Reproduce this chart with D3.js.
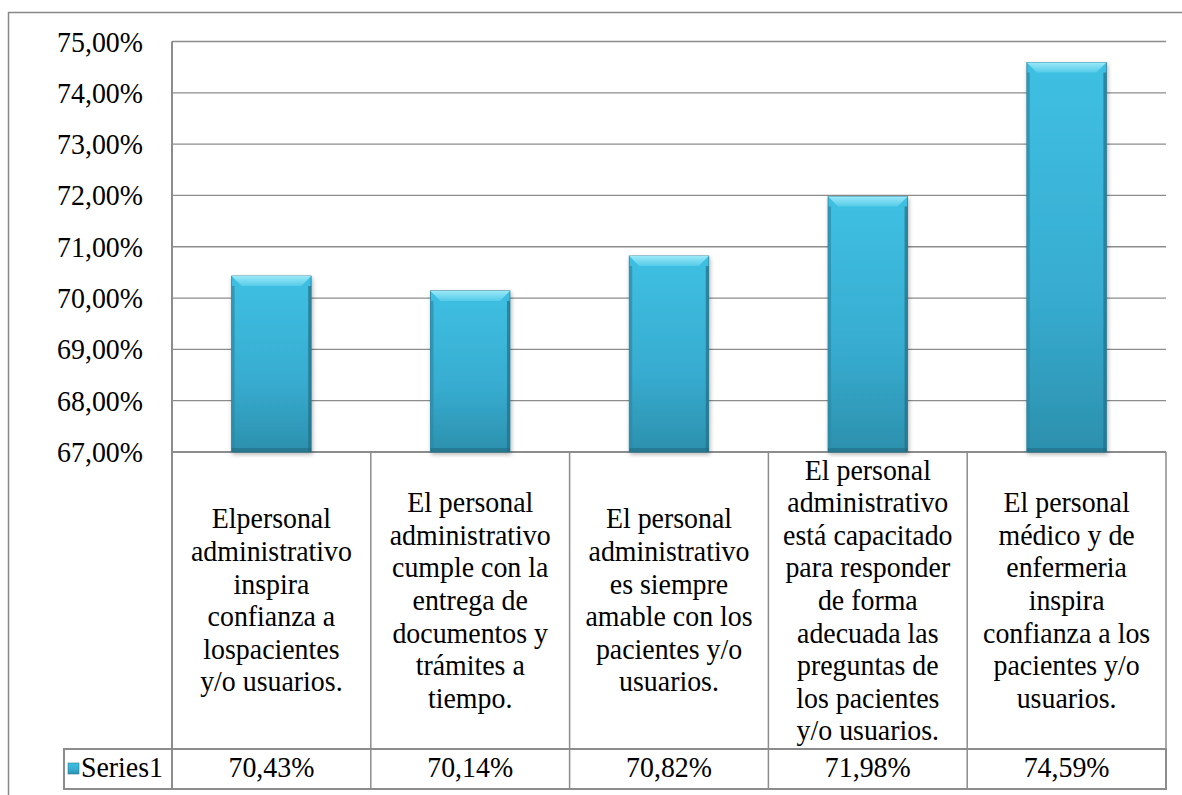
<!DOCTYPE html>
<meta charset="utf-8">
<style>
  body { margin: 0; background: #fff; }
  text { font-family: "Liberation Serif", "Times New Roman", serif; fill: #000; }
</style>
<body>
<script src="https://d3js.org/d3.v7.min.js"></script>
<script>

// data
var categories = [
  ["Elpersonal", "administrativo", "inspira", "confianza a", "lospacientes", "y/o usuarios."],
  ["El personal", "administrativo", "cumple con la", "entrega de", "documentos y", "trámites a", "tiempo."],
  ["El personal", "administrativo", "es siempre", "amable con los", "pacientes y/o", "usuarios."],
  ["El personal", "administrativo", "está capacitado", "para responder", "de forma", "adecuada las", "preguntas de", "los pacientes", "y/o usuarios."],
  ["El personal", "médico y de", "enfermeria", "inspira", "confianza a los", "pacientes y/o", "usuarios."]
];
var seriesName = "Series1";
var values = [70.43, 70.14, 70.82, 71.98, 74.59];
var yTicks = [67, 68, 69, 70, 71, 72, 73, 74, 75];

// layout
var W = 1182, H = 795;
var plotLeft = 172, plotRight = 1166, plotTop = 41.5, plotBottom = 452;
var headBottom = 749, rowBottom = 789, legendLeft = 64;
var fs = 29.5, sx = 0.945, lineH = 32.6;   // text is a bit narrow in the original
var gridColor = "#8c8c8c";

var fmt = function(v) { return v.toFixed(2).replace(".", ",") + "%"; };

var svg = d3.select("body").append("svg")
    .attr("width", W)
    .attr("height", H);

var defs = svg.append("defs");
var grad = defs.append("linearGradient")
    .attr("id", "barFill")
    .attr("x1", 0).attr("y1", 0).attr("x2", 0).attr("y2", 1);
grad.append("stop").attr("offset", "0%").attr("stop-color", "#3ec0e3");
grad.append("stop").attr("offset", "60%").attr("stop-color", "#37acd0");
grad.append("stop").attr("offset", "100%").attr("stop-color", "#2c90ad");

var bevGrad = defs.append("linearGradient")
    .attr("id", "bevFill")
    .attr("x1", 0).attr("y1", 0).attr("x2", 0).attr("y2", 1);
bevGrad.append("stop").attr("offset", "0%").attr("stop-color", "#9ae9f8");
bevGrad.append("stop").attr("offset", "100%").attr("stop-color", "#55cbe8");

var shadow = defs.append("filter").attr("id", "shadow")
    .attr("x", "-20%").attr("y", "-10%").attr("width", "140%").attr("height", "130%");
shadow.append("feDropShadow")
    .attr("dx", 1).attr("dy", 2).attr("stdDeviation", 2)
    .attr("flood-color", "#000").attr("flood-opacity", 0.3);

// outer chart border (runs off the page on right and bottom)
svg.append("rect")
    .attr("x", 8.5).attr("y", 12.5)
    .attr("width", W + 20).attr("height", H + 20)
    .attr("fill", "none")
    .attr("stroke", "#888")
    .attr("stroke-width", 1.5);

// scales
var x = d3.scaleBand()
    .domain(d3.range(values.length))
    .range([plotLeft, plotRight])
    .paddingInner(0.6)
    .paddingOuter(0.3);

var y = d3.scaleLinear()
    .domain([67, 75])
    .range([plotBottom, plotTop]);

// gridlines
svg.append("g")
  .selectAll("line")
    .data(yTicks)
  .enter().append("line")
    .attr("x1", plotLeft).attr("x2", plotRight)
    .attr("y1", function(d) { return y(d); })
    .attr("y2", function(d) { return y(d); })
    .attr("stroke", gridColor)
    .attr("stroke-width", function(d) { return d === 67 ? 2 : 1.3; });

// helper: squeezed text centred or anchored at (tx, ty)
function squeezed(sel, tx, ty) {
  return sel.append("g")
      .attr("transform", "translate(" + tx + "," + ty + ") scale(" + sx + ",1)")
    .append("text")
      .style("font-size", fs + "px");
}

// y tick labels
yTicks.forEach(function(t) {
  squeezed(svg, 143, y(t) + 10)
      .attr("text-anchor", "end")
      .text(fmt(t));
});

// bars with a bevel look
var bars = svg.append("g")
  .selectAll("g")
    .data(values)
  .enter().append("g")
    .attr("filter", "url(#shadow)");

var bw = x.bandwidth(), bev = 10, side = 3;

bars.append("rect")
    .attr("x", function(d, i) { return x(i); })
    .attr("y", function(d) { return y(d); })
    .attr("width", bw)
    .attr("height", function(d) { return plotBottom - y(d); })
    .attr("fill", "url(#barFill)")
    .attr("stroke", "#2a7f98")
    .attr("stroke-width", 0.8);

// top bevel
bars.append("path")
    .attr("d", function(d, i) {
      var x0 = x(i), x1 = x(i) + bw, y0 = y(d);
      return "M" + x0 + "," + y0 + "L" + x1 + "," + y0 +
             "L" + (x1 - bev) + "," + (y0 + bev) + "L" + (x0 + bev) + "," + (y0 + bev) + "Z";
    })
    .attr("fill", "url(#bevFill)");

// side shading
bars.append("rect")
    .attr("x", function(d, i) { return x(i); })
    .attr("y", function(d) { return y(d) + bev; })
    .attr("width", side)
    .attr("height", function(d) { return plotBottom - y(d) - bev; })
    .attr("fill", "#2b8aa6").attr("opacity", 0.7);
bars.append("rect")
    .attr("x", function(d, i) { return x(i) + bw - side; })
    .attr("y", function(d) { return y(d) + bev; })
    .attr("width", side)
    .attr("height", function(d) { return plotBottom - y(d) - bev; })
    .attr("fill", "#246f86").attr("opacity", 0.7);
bars.append("rect")
    .attr("x", function(d, i) { return x(i); })
    .attr("y", plotBottom - 4)
    .attr("width", bw)
    .attr("height", 4)
    .attr("fill", "#226a80").attr("opacity", 0.6);

// data table
var step = x.step();
var colEdges = d3.range(values.length + 1).map(function(i) { return plotLeft + i * step; });
var table = svg.append("g").attr("stroke", gridColor).attr("fill", "none");

// axis line on the left, from plot top to table bottom
table.append("line")
    .attr("x1", plotLeft).attr("x2", plotLeft)
    .attr("y1", plotTop).attr("y2", rowBottom)
    .attr("stroke-width", 2);

table.selectAll("line.col")
    .data(colEdges.slice(1))
  .enter().append("line")
    .attr("class", "col")
    .attr("x1", function(d) { return d; }).attr("x2", function(d) { return d; })
    .attr("y1", plotBottom).attr("y2", rowBottom)
    .attr("stroke-width", 1.5);

// value row box incl. legend cell
table.append("rect")
    .attr("x", legendLeft).attr("y", headBottom)
    .attr("width", plotRight - legendLeft).attr("height", rowBottom - headBottom)
    .attr("stroke-width", 2);

// category labels
categories.forEach(function(lines, i) {
  var mid = (plotBottom + headBottom) / 2;
  var t = squeezed(svg, plotLeft + (i + 0.5) * step, 0)
      .attr("text-anchor", "middle");
  t.selectAll("tspan")
      .data(lines)
    .enter().append("tspan")
      .attr("x", 0)
      .attr("y", function(s, j) { return mid + (j - (lines.length - 1) / 2) * lineH + 9.5; })
      .text(function(s) { return s; });
});

// values row
values.forEach(function(v, i) {
  squeezed(svg, plotLeft + (i + 0.5) * step, 777)
      .attr("text-anchor", "middle")
      .text(fmt(v));
});

// legend key + series name
svg.append("rect")
    .attr("x", legendLeft + 4).attr("y", 763)
    .attr("width", 11).attr("height", 11)
    .attr("fill", "url(#barFill)")
    .attr("stroke", "#2a7f98").attr("stroke-width", 0.6);

squeezed(svg, plotLeft - 9, 777)
    .attr("text-anchor", "end")
    .text(seriesName);

</script>
</body>
